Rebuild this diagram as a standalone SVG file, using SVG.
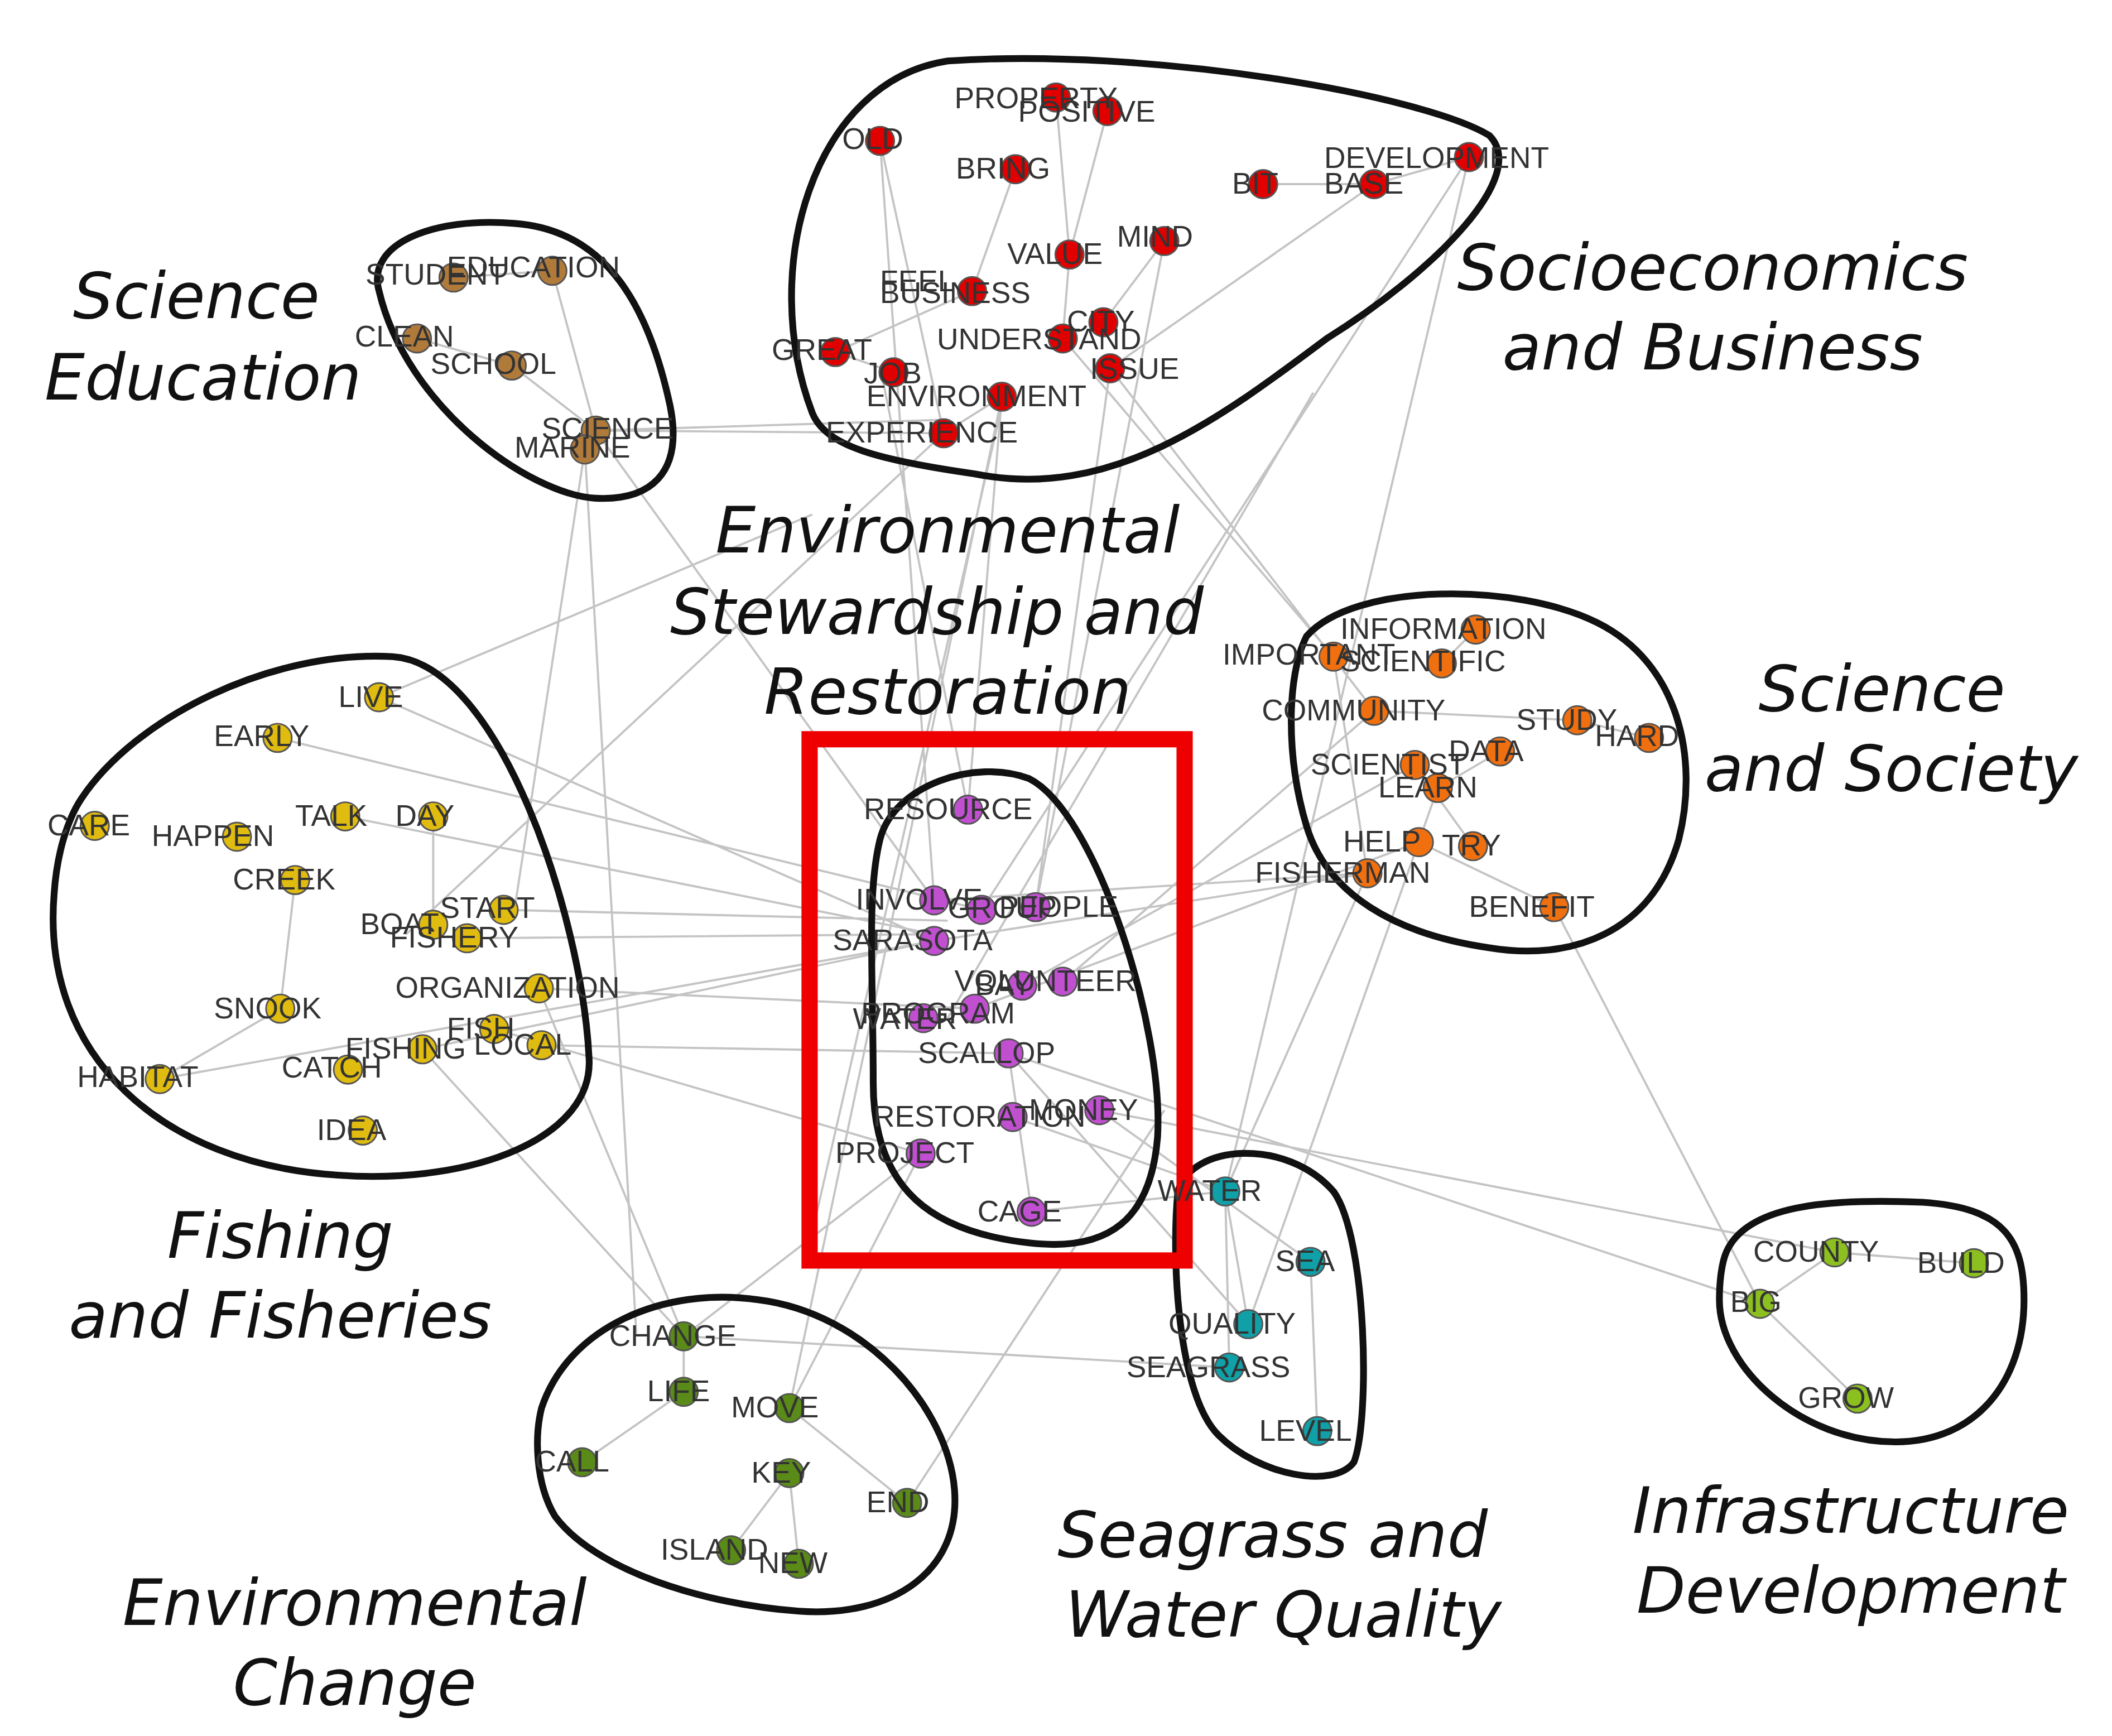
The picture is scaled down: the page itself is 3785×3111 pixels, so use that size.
<svg xmlns="http://www.w3.org/2000/svg" width="3785" height="3111" viewBox="0 0 3785 3111">
<style>
.e{stroke:#c4c4c4;stroke-width:1.6;fill:none}
.c{fill:none;stroke:#111;stroke-width:5}
.n circle{r:10.5;stroke:#555;stroke-width:1.2}
.t{font-family:"Liberation Sans",Arial,sans-serif;font-size:22px;fill:#333}
.L{font-family:"DejaVu Sans",Verdana,sans-serif;font-style:italic;font-size:47px;fill:#111;text-anchor:middle}
.r circle{fill:#e00000}.b circle{fill:#b07a3a}.y circle{fill:#e0bb10}.o circle{fill:#f07010}.p circle{fill:#c050d0}.q circle{fill:#10a0a8}.g circle{fill:#5a8a18}.l circle{fill:#8cc020}
</style>
<rect width="3785" height="3111" fill="#fff"/>
<g transform="scale(2.4263)">
<g id="connectors">
<path class="e" d="M440,318 L700,310 M440,318 L690,665 M432,332 L470,985 M432,332 L380,672 M335,205 L408,200 M308,250 L378,270 M378,270 L440,318 M408,200 L440,318 M280,515 L600,380 M280,515 L690,695 M255,603 L690,690 M320,603 L320,683 M218,650 L207,745 M207,745 L118,797 M345,693 L690,690 M372,672 L700,680 M398,730 L720,745 M400,772 L745,778 M365,760 L680,852 M312,775 L505,987 M398,730 L505,987 M715,598 L740,293 M690,665 L650,104 M765,670 L860,178 M725,672 L1085,116 M690,695 L1010,645 M785,725 L1015,525 M755,728 L1045,565 M720,745 L1048,622 M748,825 L905,880 M812,820 L968,932 M762,895 L745,778 M680,852 L583,1040 M680,852 L505,987 M745,778 L1300,963 M812,820 L1355,925 M1148,670 L1300,963 M908,1010 L505,987 M905,880 L1010,645 M922,978 L1062,582 M973,1057 L968,932 M905,880 L922,978 M908,1010 L905,880 M583,1088 L540,1145 M583,1088 L590,1155 M583,1040 L670,1110 M505,1028 L430,1080 M505,987 L505,1028 M670,1110 L860,820 M583,1040 L740,293 M1300,963 L1372,1033 M1300,963 L1355,925 M1355,925 L1458,933 M650,104 L697,320 M780,72 L790,188 M818,82 L790,188 M750,125 L718,215 M933,136 L1015,136 M1015,136 L1085,116 M860,178 L815,238 M790,188 L785,250 M718,215 L617,260 M617,260 L660,275 M740,293 L697,320 M820,272 L1015,525 M785,250 L985,485 M1085,116 L905,880 M1015,136 L820,272 M697,320 L440,318 M1015,525 L1165,532 M1165,532 L1218,545 M1108,555 L1062,582 M1045,565 L1088,625 M1090,465 L1065,490 M985,485 L1010,645 M1048,622 L1148,670 M690,665 L1010,645 M725,672 L205,545 M715,598 L650,270 M765,670 L820,272 M690,695 L312,775 M690,695 L118,797 M700,752 L970,290 M745,778 L922,978 M762,895 L905,880 M600,910 L740,300 M300,690 L697,320"/>
</g>
<g id="clusters">
<path class="c" d="M600,305 C560,200 600,60 700,45 C850,35 1050,70 1100,100 C1130,130 1060,200 980,250 C900,310 820,370 720,350 C650,340 610,330 600,305 Z"/>
<path class="c" d="M280,215 C270,180 320,160 380,165 C450,170 480,230 495,300 C505,350 480,370 440,368 C390,365 300,300 280,215 Z"/>
<path class="c" d="M60,590 C100,530 200,480 290,485 C370,490 430,680 435,780 C440,840 350,875 250,868 C120,860 30,780 40,660 C42,630 50,605 60,590 Z"/>
<path class="c" d="M965,470 C1000,430 1120,430 1180,460 C1240,490 1255,560 1240,620 C1220,690 1160,710 1100,700 C1030,690 980,660 965,610 C950,560 950,500 965,470 Z"/>
<path class="c" d="M650,620 C660,580 720,560 760,575 C810,600 860,760 855,840 C850,900 820,925 760,918 C690,910 645,880 645,800 C645,720 640,660 650,620 Z"/>
<path class="c" d="M870,880 C880,845 950,840 985,880 C1010,915 1012,1050 1000,1080 C985,1100 930,1090 900,1060 C870,1030 865,930 870,880 Z"/>
<path class="c" d="M400,1040 C420,980 490,950 560,960 C640,970 700,1040 705,1100 C710,1160 660,1195 590,1190 C520,1185 440,1160 410,1120 C395,1095 395,1060 400,1040 Z"/>
<path class="c" d="M1275,925 C1290,890 1350,885 1420,888 C1480,892 1495,915 1495,960 C1495,1020 1460,1065 1400,1065 C1330,1065 1270,1010 1270,960 C1270,945 1272,932 1275,925 Z"/>
</g>
<rect x="598" y="546" width="277" height="385" fill="none" stroke="#ee0000" stroke-width="12"/>
<g id="n-red" class="n r">
<circle cx="780" cy="72"/><circle cx="818" cy="82"/><circle cx="650" cy="104"/><circle cx="750" cy="125"/><circle cx="933" cy="136"/><circle cx="1015" cy="136"/><circle cx="1085" cy="116"/><circle cx="860" cy="178"/><circle cx="790" cy="188"/><circle cx="718" cy="215"/><circle cx="815" cy="238"/><circle cx="785" cy="250"/><circle cx="820" cy="272"/><circle cx="617" cy="260"/><circle cx="660" cy="275"/><circle cx="740" cy="293"/><circle cx="697" cy="320"/>
</g>
<g id="n-brown" class="n b"><circle cx="335" cy="205"/><circle cx="408" cy="200"/><circle cx="308" cy="250"/><circle cx="378" cy="270"/><circle cx="440" cy="318"/><circle cx="432" cy="332"/></g>
<g id="n-yellow" class="n y"><circle cx="280" cy="515"/><circle cx="205" cy="545"/><circle cx="70" cy="610"/><circle cx="175" cy="618"/><circle cx="255" cy="603"/><circle cx="320" cy="603"/><circle cx="218" cy="650"/><circle cx="320" cy="683"/><circle cx="372" cy="672"/><circle cx="345" cy="693"/><circle cx="398" cy="730"/><circle cx="207" cy="745"/><circle cx="365" cy="760"/><circle cx="312" cy="775"/><circle cx="400" cy="772"/><circle cx="118" cy="797"/><circle cx="257" cy="790"/><circle cx="268" cy="835"/></g>
<g id="n-orange" class="n o"><circle cx="1090" cy="465"/><circle cx="985" cy="485"/><circle cx="1065" cy="490"/><circle cx="1015" cy="525"/><circle cx="1165" cy="532"/><circle cx="1218" cy="545"/><circle cx="1108" cy="555"/><circle cx="1045" cy="565"/><circle cx="1062" cy="582"/><circle cx="1048" cy="622"/><circle cx="1088" cy="625"/><circle cx="1010" cy="645"/><circle cx="1148" cy="670"/></g>
<g id="n-purple" class="n p"><circle cx="715" cy="598"/><circle cx="690" cy="665"/><circle cx="725" cy="672"/><circle cx="765" cy="670"/><circle cx="690" cy="695"/><circle cx="785" cy="725"/><circle cx="755" cy="728"/><circle cx="720" cy="745"/><circle cx="682" cy="752"/><circle cx="745" cy="778"/><circle cx="748" cy="825"/><circle cx="812" cy="820"/><circle cx="680" cy="852"/><circle cx="762" cy="895"/></g>
<g id="n-teal" class="n q"><circle cx="905" cy="880"/><circle cx="968" cy="932"/><circle cx="922" cy="978"/><circle cx="908" cy="1010"/><circle cx="973" cy="1057"/></g>
<g id="n-green" class="n g"><circle cx="505" cy="987"/><circle cx="505" cy="1028"/><circle cx="583" cy="1040"/><circle cx="430" cy="1080"/><circle cx="583" cy="1088"/><circle cx="670" cy="1110"/><circle cx="540" cy="1145"/><circle cx="590" cy="1155"/></g>
<g id="n-lgreen" class="n l"><circle cx="1355" cy="925"/><circle cx="1458" cy="933"/><circle cx="1300" cy="963"/><circle cx="1372" cy="1033"/></g>
<g id="labels" class="t">
<text x="705" y="80">PROPERTY</text><text x="752" y="90">POSITIVE</text><text x="622" y="110">OLD</text><text x="706" y="132">BRING</text><text x="910" y="143">BIT</text><text x="978" y="143">BASE</text><text x="978" y="124">DEVELOPMENT</text><text x="825" y="182">MIND</text><text x="744" y="195">VALUE</text><text x="650" y="215">FEEL</text><text x="650" y="224">BUSINESS</text><text x="788" y="245">CITY</text><text x="692" y="258">UNDERSTAND</text><text x="805" y="280">ISSUE</text><text x="570" y="266">GREAT</text><text x="638" y="283">JOB</text><text x="640" y="300">ENVIRONMENT</text><text x="610" y="327">EXPERIENCE</text>
<text x="270" y="210">STUDENT</text><text x="330" y="205">EDUCATION</text><text x="262" y="256">CLEAN</text><text x="318" y="276">SCHOOL</text><text x="400" y="324">SCIENCE</text><text x="380" y="338">MARINE</text>
<text x="250" y="522">LIVE</text><text x="158" y="551">EARLY</text><text x="35" y="617">CARE</text><text x="112" y="625">HAPPEN</text><text x="218" y="610">TALK</text><text x="292" y="610">DAY</text><text x="172" y="657">CREEK</text><text x="266" y="690">BOAT</text><text x="325" y="678">START</text><text x="288" y="700">FISHERY</text><text x="292" y="737">ORGANIZATION</text><text x="158" y="752">SNOOK</text><text x="330" y="767">FISH</text><text x="255" y="782">FISHING</text><text x="350" y="779">LOCAL</text><text x="57" y="803">HABITAT</text><text x="208" y="796">CATCH</text><text x="234" y="842">IDEA</text>
<text x="990" y="472">INFORMATION</text><text x="903" y="491">IMPORTANT</text><text x="990" y="496">SCIENTIFIC</text><text x="932" y="532">COMMUNITY</text><text x="1120" y="539">STUDY</text><text x="1178" y="551">HARD</text><text x="1070" y="562">DATA</text><text x="968" y="572">SCIENTIST</text><text x="1018" y="589">LEARN</text><text x="992" y="629">HELP</text><text x="1065" y="632">TRY</text><text x="927" y="652">FISHERMAN</text><text x="1085" y="677">BENEFIT</text>
<text x="638" y="605">RESOURCE</text><text x="632" y="672">INVOLVE</text><text x="700" y="678">GROUP</text><text x="738" y="677">PEOPLE</text><text x="615" y="702">SARASOTA</text><text x="705" y="732">VOLUNTEER</text><text x="720" y="735">BAY</text><text x="636" y="756">PROGRAM</text><text x="630" y="760">WATER</text><text x="678" y="785">SCALLOP</text><text x="645" y="832">RESTORATION</text><text x="760" y="827">MONEY</text><text x="617" y="859">PROJECT</text><text x="722" y="902">CAGE</text>
<text x="855" y="887">WATER</text><text x="942" y="939">SEA</text><text x="863" y="985">QUALITY</text><text x="832" y="1017">SEAGRASS</text><text x="930" y="1064">LEVEL</text>
<text x="450" y="994">CHANGE</text><text x="478" y="1035">LIFE</text><text x="540" y="1047">MOVE</text><text x="395" y="1087">CALL</text><text x="555" y="1095">KEY</text><text x="640" y="1117">END</text><text x="488" y="1152">ISLAND</text><text x="560" y="1162">NEW</text>
<text x="1295" y="932">COUNTY</text><text x="1416" y="940">BUILD</text><text x="1278" y="969">BIG</text><text x="1328" y="1040">GROW</text>
</g>
<g id="titles" class="L">
<text x="145" y="235">Science</text><text x="150" y="295">Education</text>
<text x="1265" y="214">Socioeconomics</text><text x="1265" y="273">and Business</text>
<text x="700" y="408">Environmental</text><text x="692" y="468">Stewardship and</text><text x="700" y="527">Restoration</text>
<text x="1390" y="525">Science</text><text x="1397" y="584">and Society</text>
<text x="207" y="929">Fishing</text><text x="207" y="988">and Fisheries</text>
<text x="940" y="1150">Seagrass and</text><text x="948" y="1209">Water Quality</text>
<text x="1367" y="1132">Infrastructure</text><text x="1367" y="1191">Development</text>
<text x="262" y="1200">Environmental</text><text x="262" y="1259">Change</text>
</g>
</g>
</svg>
